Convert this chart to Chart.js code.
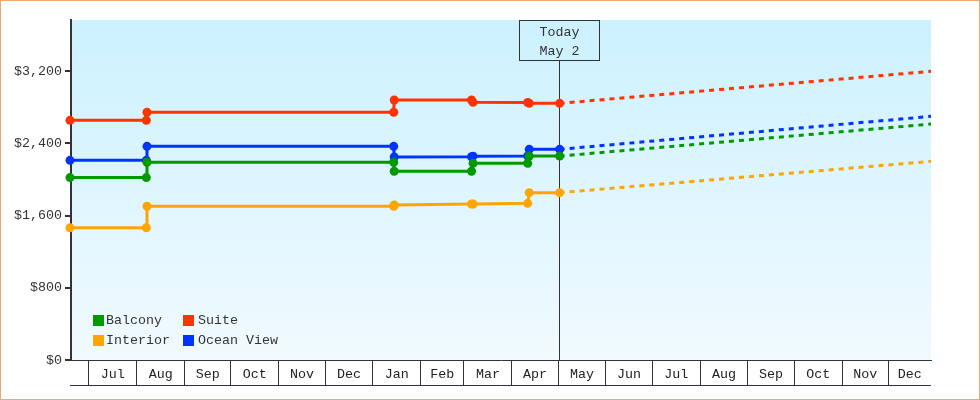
<!DOCTYPE html>
<html><head><meta charset="utf-8">
<style>html,body{margin:0;padding:0;background:#fff}canvas{display:block;outline:1px solid #e8ab68;outline-offset:-1px}</style>
<script src="https://cdn.jsdelivr.net/npm/chart.js@4/dist/chart.umd.min.js"></script>
</head><body><canvas id="c" width="980" height="400" style="width:980px;height:400px"></canvas>
<script>
const days = [-12.25, 37.2, 37.64, 197.5, 197.8, 247.9, 248.9, 284.3, 285.3, 305, 545.6];
const balcony = [2020,2020,2190,2190,2090,2090,2178,2178,2258,2258,2613];
const interior = [1465,1465,1702,1702,1716,1727,1727,1735,1853,1853,2200];
const suite = [2654,2654,2743,2743,2879,2879,2853,2851,2842,2842,3197];
const oceanView = [2211,2211,2366,2366,2248,2251,2257,2259,2333,2333,2698];
const monthLabels = ['Jul','Aug','Sep','Oct','Nov','Dec','Jan','Feb','Mar','Apr','May','Jun','Jul','Aug','Sep','Oct','Nov','Dec'];
const monthStarts = [0,31,62,92,123,153,184,215,243,274,304,335,365,396,427,457,488,518];
const yTicks = [0,800,1600,2400,3200];
const xMin = -11.6, xMax = 545.6, yMax = 3765, todayDay = 305;
const todayLines = ['Today','May 2'];
const FONT = '"Liberation Mono", monospace', INK = '#333', FSIZE = 13.33;

const ends = monthStarts.map((s,i)=> i+1<monthStarts.length ? monthStarts[i+1] : xMax);
const centers = monthStarts.map((s,i)=>(s+ends[i])/2);
const labelAt = new Map(centers.map((c,i)=>[c,monthLabels[i]]));
const isBoundary = v => monthStarts.includes(v);

function series(label,color,values){
  const last = values.length-1;
  return {label,data:values.map((y,i)=>({x:days[i],y})),borderColor:color,backgroundColor:color,
    borderWidth:3,stepped:false,tension:0,clip:false,
    pointRadius:c=>c.dataIndex===last?0:4.5,pointHoverRadius:4.5,pointBorderWidth:0,
    segment:{borderDash:c=>c.p0DataIndex===last-1?[5,5]:undefined}};
}
const panel = {id:'panel',
  beforeDatasetsDraw(ch){
    const {ctx,chartArea:a,scales:{x}}=ch;
    ctx.save();
    const tx=Math.floor(x.getPixelForValue(todayDay))+.5, boxTop=a.top+.5, boxH=40, boxW=80;
    ctx.strokeStyle=INK;ctx.lineWidth=1;
    ctx.beginPath();ctx.moveTo(tx,boxTop+boxH);ctx.lineTo(tx,a.bottom);ctx.stroke();
    ctx.strokeRect(tx-40,boxTop,boxW,boxH);
    ctx.fillStyle=INK;ctx.font=FSIZE+'px '+FONT;ctx.textAlign='center';ctx.textBaseline='middle';
    ctx.fillText(todayLines[0],tx,boxTop+12);
    ctx.fillText(todayLines[1],tx,boxTop+31);
    ctx.restore();
  },
  beforeDraw(ch){
    const {ctx,chartArea:a}=ch;
    const g=ctx.createLinearGradient(0,a.top,0,a.bottom);
    g.addColorStop(0,'#ccf1ff');g.addColorStop(1,'#f1faff');
    ctx.save();ctx.fillStyle=g;ctx.fillRect(a.left,a.top,a.right-a.left,a.bottom-a.top);ctx.restore();
  },
  afterDraw(ch){
    const {ctx,chartArea:a}=ch;
    ctx.save();
    ctx.strokeStyle=INK;ctx.lineWidth=1;
    ctx.beginPath();ctx.moveTo(a.left-1,a.bottom+25.5);ctx.lineTo(a.right,a.bottom+25.5);ctx.stroke();
    const colX=[a.left+22,a.left+112], rowY=[a.bottom-40,a.bottom-20], textX=[a.left+35,a.left+127];
    ctx.font=FSIZE+'px '+FONT;ctx.textBaseline='middle';ctx.textAlign='left';
    ch.data.datasets.forEach((d,i)=>{
      const c=Math.floor(i/2), r=i%2;
      ctx.fillStyle=d.borderColor;ctx.fillRect(colX[c],rowY[r]-5,11,11);
      ctx.fillStyle=INK;ctx.fillText(d.label,textX[c],rowY[r]+.5);
    });
    ctx.restore();
  }
};
new Chart(document.getElementById('c'),{
  type:'line',
  data:{datasets:[series('Balcony','#009900',balcony),series('Interior','#ffa500',interior),series('Suite','#ff3300',suite),series('Ocean View','#0033ff',oceanView)]},
  options:{responsive:false,devicePixelRatio:1,animation:false,
    layout:{padding:{left:0,right:49,top:20,bottom:0}},
    plugins:{legend:{display:false},tooltip:{enabled:false}},
    scales:{
      x:{type:'linear',min:xMin,max:xMax,
        afterBuildTicks(s){s.ticks=[...monthStarts,...centers].sort((a,b)=>a-b).map(value=>({value}));},
        afterFit(s){s.height=40;},
        grid:{drawOnChartArea:false,drawTicks:true,tickLength:25,lineWidth:1,tickWidth:1,
          tickColor:c=>isBoundary(c.tick.value)?INK:'rgba(0,0,0,0)',color:c=>isBoundary(c.tick?.value)?INK:'rgba(0,0,0,0)'},
        border:{display:true,color:INK,width:1},
        ticks:{autoSkip:false,maxRotation:0,minRotation:0,padding:-19,color:'#222',font:{family:FONT,size:FSIZE},
          callback:v=>labelAt.get(v)??''}},
      y:{type:'linear',min:0,max:yMax,
        afterBuildTicks(s){s.ticks=yTicks.map(value=>({value}));},
        afterFit(s){s.width=71;},
        grid:{drawOnChartArea:false,drawTicks:true,tickLength:6,tickWidth:2,tickColor:INK,color:INK,lineWidth:2},
        border:{display:true,color:INK,width:2},
        ticks:{padding:3,color:INK,font:{family:FONT,size:FSIZE},callback:v=>'$'+Number(v).toLocaleString('en-US')}}
    }
  },
  plugins:[panel]
});
</script></body></html>
